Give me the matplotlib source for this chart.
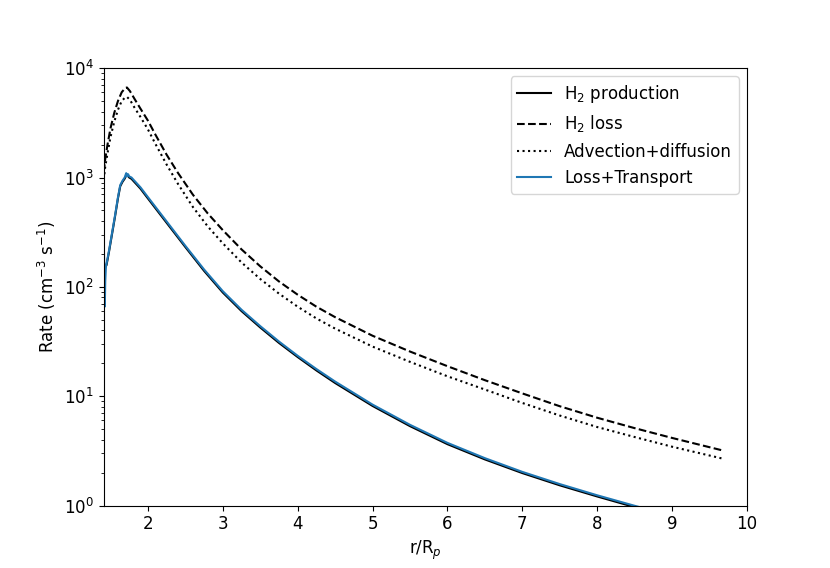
import matplotlib
matplotlib.use("Agg")
import matplotlib.pyplot as plt

# H2 production (solid black)
r_prod = [1.41, 1.42, 1.43, 1.447, 1.48, 1.52, 1.56, 1.60, 1.63, 1.66, 1.69, 1.71, 1.735, 1.75,
          1.78, 1.82, 1.86, 1.90, 2.00, 2.25, 2.5, 2.75, 3.0, 3.25, 3.5, 3.75, 4.0, 4.25, 4.5,
          5.0, 5.5, 6.0, 6.5, 7.0, 7.5, 8.0, 8.5, 9.0, 9.69]
prod = [123, 138, 151, 158, 209, 302, 437, 646, 832, 912, 977, 1047, 1035, 1000,
        973, 908, 848, 791, 643, 385, 231, 140, 88.7, 60.0, 42.5, 30.7, 22.8, 17.2, 13.2,
        8.14, 5.32, 3.64, 2.64, 1.98, 1.53, 1.21, 0.967, 0.786, 0.600]

# loss + transport (blue)
r_lt = [1.41, 1.418, 1.424, 1.43, 1.44, 1.447, 1.48, 1.52, 1.56, 1.60, 1.63, 1.66, 1.69, 1.71,
        1.72, 1.735, 1.75, 1.78, 1.82, 1.86, 1.90, 2.00, 2.25, 2.5, 2.75, 3.0, 3.25, 3.5, 3.75,
        4.0, 4.25, 4.5, 5.0, 5.5, 6.0, 6.5, 7.0, 7.5, 8.0, 8.5, 9.0, 9.69]
loss_transport = [251, 141, 66, 112, 158, 162, 214, 309, 447, 661, 851, 933, 1000, 1096,
                  1023, 1072, 1023, 1000, 933, 871, 813, 661, 396, 237, 144, 91.2, 61.7, 43.7, 31.6,
                  23.4, 17.7, 13.6, 8.37, 5.47, 3.74, 2.71, 2.03, 1.57, 1.24, 0.994, 0.808, 0.617]

# H2 loss (dashed) and advection+diffusion (dotted)
r_ld = [1.41, 1.43, 1.46, 1.50, 1.55, 1.60, 1.65, 1.70, 1.72, 1.76, 1.82, 1.90, 2.00, 2.10,
        2.25, 2.40, 2.60, 2.80, 3.00, 3.25, 3.50, 3.75, 4.00, 4.25, 4.50, 5.00, 5.50, 6.00,
        6.50, 7.00, 7.50, 8.00, 8.50, 9.00, 9.35, 9.69]
loss = [1122, 1479, 1995, 2818, 3890, 5012, 6026, 6607, 6653, 6166, 5248, 4266, 3311, 2466,
        1614, 1104, 697, 468, 330, 220, 154, 112, 84.7, 65.8, 52.8, 35.7, 25.6, 18.8,
        14.0, 10.6, 8.09, 6.35, 5.10, 4.15, 3.62, 3.17]
adv_diff = [955, 1259, 1660, 2344, 3236, 4169, 5012, 5433, 5458, 5129, 4365, 3581, 2754, 2028,
            1312, 877, 538, 356, 250, 167, 118, 86.7, 65.8, 51.4, 41.5, 28.4, 20.6, 15.2,
            11.5, 8.67, 6.65, 5.22, 4.23, 3.45, 3.03, 2.67]

fig, ax = plt.subplots(figsize=(8.3, 5.68), dpi=100)

ax.plot(r_prod, prod, color='k', ls='-', label='H$_2$ production')
ax.plot(r_ld, loss, color='k', ls='--', label='H$_2$ loss')
ax.plot(r_ld, adv_diff, color='k', ls=':', label='Advection+diffusion')
ax.plot(r_lt, loss_transport, color='tab:blue', ls='-', label='Loss+Transport')

ax.set_yscale('log')
ax.set_xlim(1.41, 10)
ax.set_ylim(1, 1e4)
ax.set_xlabel('r/R$_p$', fontsize=12)
ax.set_ylabel('Rate (cm$^{-3}$ s$^{-1}$)', fontsize=12)
ax.tick_params(axis='both', labelsize=12)
ax.legend(loc='upper right', fontsize=12)

plt.savefig('out.png', dpi=100)
